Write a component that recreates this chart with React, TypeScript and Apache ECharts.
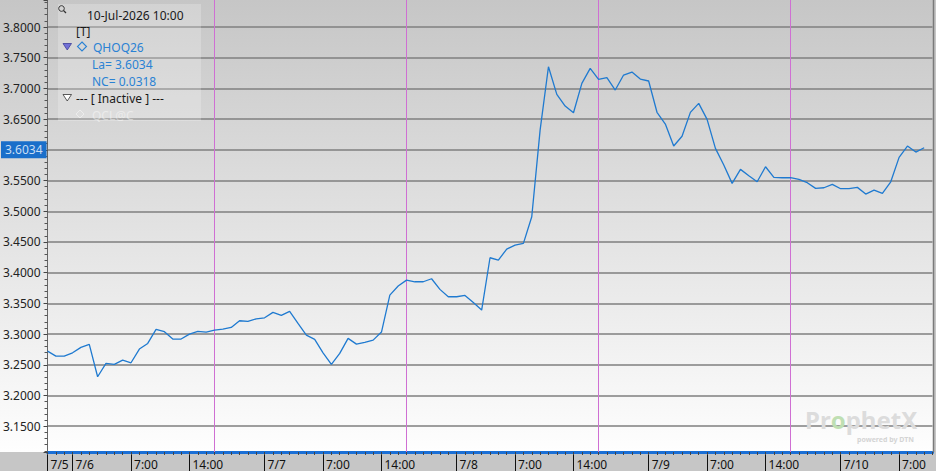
import React, { useEffect, useRef } from 'react';
import * as echarts from 'echarts';

// Hourly closes, 5-Jul-2026 21:00 .. 10-Jul-2026 10:00
const prices = [
  3.2723, 3.2642, 3.2640, 3.2695, 3.2783, 3.2832, 3.2305, 3.2522, 3.2506, 3.2576,
  3.2533, 3.2756, 3.2848, 3.3077, 3.3039, 3.2919, 3.2919, 3.3000, 3.3044, 3.3033,
  3.3065, 3.3081, 3.3109, 3.3217, 3.3206, 3.3249, 3.3265, 3.3353, 3.3304, 3.3369,
  3.3174, 3.2984, 3.2914, 3.2695, 3.2506, 3.2685, 3.2930, 3.2837, 3.2865, 3.2902,
  3.3033, 3.3635, 3.3782, 3.3879, 3.3852, 3.3852, 3.3901, 3.3728, 3.3608, 3.3608,
  3.3630, 3.3516, 3.3391, 3.4243, 3.4205, 3.4384, 3.4449, 3.4477, 3.4911, 3.6322,
  3.7353, 3.6904, 3.6713, 3.6604, 3.7083, 3.7327, 3.7148, 3.7175, 3.6974, 3.7218,
  3.7267, 3.7153, 3.7121, 3.6612, 3.6420, 3.6062, 3.6222, 3.6610, 3.6757, 3.6497,
  3.6024, 3.5752, 3.5454, 3.5682, 3.5578, 3.5480, 3.5725, 3.5552, 3.5546, 3.5546,
  3.5519, 3.5465, 3.5373, 3.5383, 3.5438, 3.5367, 3.5367, 3.5389, 3.5280, 3.5345,
  3.5291, 3.5480, 3.5878, 3.6062, 3.5964, 3.6034,
];

const days = ['7/5', '7/6', '7/7', '7/8', '7/9', '7/10'];
const sessionHours = [0, 1, 2, 3, 4, 5, 6, 7, 8, 9, 10, 11, 12, 13, 14, 15, 16, 18, 19, 20, 21, 22, 23];
const firstHour = 21;
const lastHour = 10;
const labelHours = [0, 7, 14];
const sessionOpenHour = 18;

const yMin = 3.108;
const yMax = 3.844;
const yStep = 0.05;

const legendTitle = '10-Jul-2026 10:00';
const symbolName = 'QHOQ26';
const lastLabel = 'La= 3.6034';
const changeLabel = 'NC= 0.0318';

const categories: string[] = [];
const catDay: string[] = [];
const catHour: (number | null)[] = [];
days.forEach((d, di) => {
  sessionHours.forEach((h) => {
    if (di === 0 && h < firstHour) return;
    if (di === days.length - 1 && h > lastHour) return;
    categories.push(`${d} ${h}:00`);
    catDay.push(d);
    catHour.push(h);
  });
});
// one empty slot so the axis runs on past the last bar
categories.push('');
catDay.push('');
catHour.push(null);

const isLabeled = (i: number) => {
  const h = catHour[i];
  if (h === null || h === undefined) return false;
  return i === 0 || labelHours.includes(h);
};

export default function App() {
  const ref = useRef<HTMLDivElement>(null);
  useEffect(() => {
    if (!ref.current) return;
    const chart = echarts.init(ref.current, undefined, { renderer: 'svg' });
    const lastPrice = prices[prices.length - 1];
    const openLines = categories
      .map((c, i) => ({ c, i }))
      .filter(({ i }) => catHour[i] === sessionOpenHour)
      .map(({ c }) => ({
        xAxis: c,
        lineStyle: { color: '#cf6fd3', width: 1, type: 'solid' as const },
        label: { show: false },
      }));

    const font = 'Noto Sans';
    const blue = '#2a82d4';
    const option: any = {
      animation: false,
      backgroundColor: '#c6c6c6',
      textStyle: { fontFamily: font },
      grid: { left: 47, right: 3.5, top: 0, bottom: 19, show: false },
      xAxis: [
        {
          type: 'category',
          data: categories,
          boundaryGap: false,
          position: 'bottom',
          axisLine: { show: true, lineStyle: { color: '#1a6fd6', width: 3 } },
          axisTick: {
            show: true,
            interval: (i: number) => isLabeled(i),
            length: 19,
            lineStyle: { color: '#111', width: 1 },
          },
          axisLabel: {
            show: true,
            interval: (i: number) => isLabeled(i),
            formatter: (_v: string, i: number) => {
              const h = catHour[i];
              if (h === null || h === undefined) return '';
              if (i === 0 || h === 0) return catDay[i];
              return `${h}:00`;
            },
            align: 'left',
            padding: [0, 0, 0, 3],
            margin: 6,
            color: '#111',
            fontSize: 12,
            fontFamily: font,
          },
          splitLine: { show: false },
        },
        {
          type: 'category',
          data: categories,
          boundaryGap: false,
          position: 'bottom',
          axisLine: { show: false },
          axisTick: { show: true, interval: 0, length: 3, lineStyle: { color: '#444', width: 1 } },
          axisLabel: { show: false },
          splitLine: { show: false },
        },
      ],
      yAxis: {
        type: 'value',
        min: yMin,
        max: yMax,
        minInterval: yStep,
        maxInterval: yStep,
        splitNumber: 15,
        axisLine: { show: true, lineStyle: { color: '#666', width: 1 } },
        axisTick: { show: true, length: 4, lineStyle: { color: '#444' } },
        minorTick: { show: true, splitNumber: 5, length: 3, lineStyle: { color: '#555' } },
        axisLabel: {
          formatter: (v: number) => {
            const onStep = Math.abs(v / yStep - Math.round(v / yStep)) < 1e-6;
            // the last-price flag covers the nearest tick label
            if (!onStep || Math.abs(v - lastPrice) < yStep / 4) return '';
            return v.toFixed(4);
          },
          color: '#222',
          fontSize: 12,
          margin: 7,
          fontFamily: font,
        },
        splitLine: { show: true, showMinLine: false, showMaxLine: false, lineStyle: { color: '#7f7f7f', width: 1.5 } },
        minorSplitLine: { show: false },
      },
      series: [
        {
          type: 'line',
          data: prices,
          xAxisIndex: 0,
          showSymbol: false,
          symbol: 'none',
          lineStyle: { color: '#1f7ad0', width: 1.3 },
          z: 5,
          markLine: {
            silent: true,
            symbol: ['none', 'none'],
            animation: false,
            data: [
              {
                yAxis: lastPrice,
                lineStyle: { color: 'rgba(0,0,0,0)', width: 0 },
                label: {
                  show: true,
                  position: 'start',
                  formatter: lastPrice.toFixed(4),
                  backgroundColor: '#1a6fca',
                  color: '#c9def4',
                  padding: [3, 4, 2, 4],
                  distance: 1,
                  fontSize: 12,
                  fontFamily: font,
                  opacity: 1,
                },
              },
              ...openLines,
            ],
          },
        },
      ],
      graphic: {
        elements: [
          {
            type: 'rect',
            z: -100,
            silent: true,
            shape: { x: 0, y: 0, width: 933, height: 452 },
            style: {
              fill: new echarts.graphic.LinearGradient(0, 0, 0, 1, [
                { offset: 0, color: '#c6c6c6' },
                { offset: 1, color: '#fefefe' },
              ]),
            },
          },
          {
            type: 'line',
            z: 10,
            silent: true,
            shape: { x1: 933.5, y1: 0, x2: 933.5, y2: 452 },
            style: { stroke: '#7a7a7a', lineWidth: 1.5 },
          },
          {
            type: 'rect',
            z: 20,
            silent: true,
            shape: { x: 58, y: 4, width: 143, height: 117 },
            style: { fill: 'rgba(255,255,255,0.22)' },
          },
          {
            type: 'circle',
            z: 21,
            shape: { cx: 61.5, cy: 8.5, r: 2.8 },
            style: { fill: 'none', stroke: '#333', lineWidth: 1 },
          },
          {
            type: 'line',
            z: 21,
            shape: { x1: 63.5, y1: 10.5, x2: 66, y2: 13 },
            style: { stroke: '#333', lineWidth: 1.2 },
          },
          {
            type: 'text',
            z: 21,
            style: { text: legendTitle, x: 87, y: 15, fill: '#1a1a1a', font: `12px "${font}"`, verticalAlign: 'middle' },
          },
          {
            type: 'text',
            z: 21,
            style: { text: '[T]', x: 76, y: 31, fill: '#1a1a1a', font: `12px "${font}"`, verticalAlign: 'middle' },
          },
          {
            type: 'polygon',
            z: 21,
            shape: { points: [[63, 43.5], [71.5, 43.5], [67.25, 50]] },
            style: { fill: '#7270d6', stroke: '#3d3d99', lineWidth: 0.8 },
          },
          {
            type: 'polygon',
            z: 21,
            shape: { points: [[82, 42], [86.5, 46.5], [82, 51], [77.5, 46.5]] },
            style: { fill: 'none', stroke: blue, lineWidth: 1.1 },
          },
          {
            type: 'text',
            z: 21,
            style: { text: symbolName, x: 93, y: 47, fill: blue, font: `12px "${font}"`, verticalAlign: 'middle' },
          },
          {
            type: 'text',
            z: 21,
            style: { text: lastLabel, x: 92, y: 64, fill: blue, font: `12px "${font}"`, verticalAlign: 'middle' },
          },
          {
            type: 'text',
            z: 21,
            style: { text: changeLabel, x: 92, y: 81, fill: blue, font: `12px "${font}"`, verticalAlign: 'middle' },
          },
          {
            type: 'polygon',
            z: 21,
            shape: { points: [[63, 94.5], [71.5, 94.5], [67.25, 101]] },
            style: { fill: '#ffffff', stroke: '#333', lineWidth: 0.8 },
          },
          {
            type: 'text',
            z: 21,
            style: { text: '--- [ Inactive ] ---', x: 76, y: 98, fill: '#1a1a1a', font: `12px "${font}"`, verticalAlign: 'middle' },
          },
          {
            type: 'polygon',
            z: 21,
            shape: { points: [[80, 110], [84, 114], [80, 118], [76, 114]] },
            style: { fill: 'none', stroke: 'rgba(255,255,255,0.45)', lineWidth: 1 },
          },
          {
            type: 'text',
            z: 21,
            style: { text: 'QCL@C', x: 92, y: 115, fill: 'rgba(255,255,255,0.45)', font: `12px "${font}"`, verticalAlign: 'middle' },
          },
          {
            type: 'text',
            z: 3,
            silent: true,
            style: {
              text: '{a|Pr}{g|o}{a|phetX}',
              x: 805,
              y: 419,
              verticalAlign: 'middle',
              rich: {
                a: { fontSize: 24, lineHeight: 20, fontWeight: 'bold', fill: '#dcdcdc', fontFamily: font },
                g: { fontSize: 24, lineHeight: 20, fontWeight: 'bold', fill: '#bfdfb3', fontFamily: font },
              },
            },
          },
          {
            type: 'text',
            z: 3,
            silent: true,
            style: { text: 'powered by DTN', x: 857, y: 439, fill: '#d4d4d4', font: `bold 7px "${font}"`, verticalAlign: 'middle' },
          },
        ],
      },
    };
    chart.setOption(option);
    return () => chart.dispose();
  }, []);
  return <div ref={ref} style={{ position: 'absolute', left: 0, top: 0, width: 936, height: 471 }} />;
}
